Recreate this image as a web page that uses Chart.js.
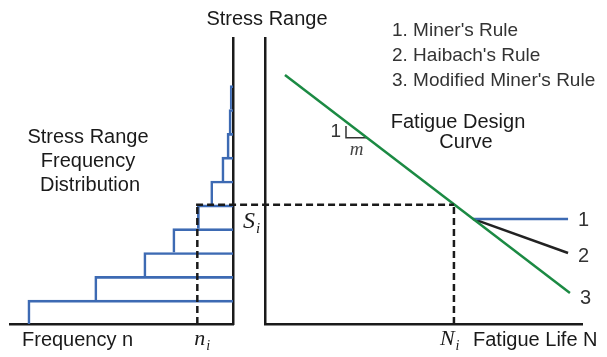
<!DOCTYPE html>
<html>
<head>
<meta charset="utf-8">
<script src="https://cdn.jsdelivr.net/npm/chart.js@4"></script>
<style>
  html, body { margin: 0; padding: 0; background: #fff; }
  #wrap { position: relative; width: 607px; height: 357px; }
  #wrap canvas { position: absolute; left: 0; top: 0; }
</style>
</head>
<body>
<div id="wrap">
  <canvas id="freq" width="607" height="357"></canvas>
  <canvas id="sn" width="607" height="357"></canvas>
</div>
<script>
// Stress range classes (mid-points) and the cycle count in each class
const stressBins = [0.5, 1.5, 2.5, 3.5, 4.5, 5.5, 6.5, 7.5, 8.5, 9.5];
const frequency  = [92, 62, 40, 27, 16, 10, 5, 2.7, 1.8, 1.3];

// Selected stress level S_i, its cycle count n_i and its fatigue life N_i (log N)
const stressSi = 5;
const countNi  = 16;
const lifeNi   = 5.96;

// Fatigue design curve in (log N, S)
const designLogN = [0.63, 9.62];
const designS    = [10.45, 1.30];

// Branches below the knee: 1. Miner (cut-off), 2. Haibach (shallower slope)
const minerLogN   = [6.56, 9.56];
const minerS      = [4.41, 4.41];
const haibachLogN = [6.56, 9.56];
const haibachS    = [4.41, 2.98];

// Slope triangle "1 : m" on the design curve
const slopeLogN = [2.555, 2.555, 3.22];
const slopeS    = [8.31, 7.81, 7.81];

// Axis ranges
const stressMax = 12;
const freqMax   = 100;
const logNMax   = 10;

const BLUE  = '#3d6ab3';
const GREEN = '#1b8a43';
const INK   = '#1a1a1a';
const GREY  = '#333333';
const SANS  = '"Liberation Sans", Arial, sans-serif';
const SERIF = '"Liberation Serif", "Times New Roman", serif';

const pts = (xs, ys) => xs.map((x, i) => ({ x: x, y: ys[i] }));

function text(ctx, s, x, y, size, color, align) {
  ctx.font = size + 'px ' + SANS;
  ctx.fillStyle = color;
  ctx.textAlign = align || 'left';
  ctx.textBaseline = 'alphabetic';
  ctx.fillText(s, x, y);
}

// italic symbol with a subscript, e.g. S_i
function symbol(ctx, base, sub, x, y, size) {
  ctx.fillStyle = INK;
  ctx.textAlign = 'left';
  ctx.textBaseline = 'alphabetic';
  ctx.font = 'italic ' + size + 'px ' + SERIF;
  ctx.fillText(base, x, y);
  const w = ctx.measureText(base).width;
  ctx.font = 'italic ' + Math.round(size * 0.62) + 'px ' + SERIF;
  ctx.fillText(sub, x + w + 1, y + 5);
}

const axisBorder = { display: true, color: INK, width: 2.5 };
const hidden = {
  offset: false,
  grid: { display: false, drawTicks: false, offset: false },
  ticks: { display: false },
  border: axisBorder
};

// ---------- left panel: stress range frequency distribution ----------
const freqLabels = {
  id: 'freqLabels',
  afterDraw(chart) {
    const { ctx, chartArea } = chart;
    const x = chart.scales.x;
    ctx.save();
    text(ctx, 'Stress Range', 88, 143, 20, INK, 'center');
    text(ctx, 'Frequency', 88, 167, 20, INK, 'center');
    text(ctx, 'Distribution', 90, 191, 20, INK, 'center');
    text(ctx, 'Frequency n', chartArea.left + 12, chartArea.bottom + 22, 20, INK);
    symbol(ctx, 'n', 'i', x.getPixelForValue(countNi) - 3, chartArea.bottom + 21, 22);
    ctx.restore();
  }
};

const freqChart = new Chart(document.getElementById('freq'), {
  data: {
    datasets: [
      {
        type: 'bar',
        indexAxis: 'y',
        data: pts(frequency, stressBins),
        backgroundColor: 'rgba(0,0,0,0)',
        borderColor: BLUE,
        borderWidth: { top: 2, left: 2, right: 0, bottom: 0 },
        borderSkipped: false,
        barPercentage: 1,
        categoryPercentage: 1,
        order: 2
      },
      {
        type: 'line',
        data: [{ x: countNi, y: 0 }, { x: countNi, y: stressSi }],
        borderColor: INK,
        borderWidth: 2.5,
        borderDash: [7, 4],
        pointRadius: 0,
        order: 1
      }
    ]
  },
  options: {
    responsive: false,
    animation: false,
    devicePixelRatio: 1,
    layout: { padding: { left: 10, right: 607 - 233, top: 38, bottom: 33 } },
    plugins: { legend: { display: false }, tooltip: { enabled: false } },
    scales: {
      x: Object.assign({ type: 'linear', reverse: true, min: 0, max: freqMax }, hidden),
      y: Object.assign({ type: 'linear', position: 'right', min: 0, max: stressMax }, hidden)
    }
  },
  plugins: [freqLabels]
});

// ---------- right panel: fatigue design curve ----------
const snLabels = {
  id: 'snLabels',
  afterDatasetsDraw(chart) {
    const { ctx } = chart;
    const x = chart.scales.x, y = chart.scales.y;
    const ySi = y.getPixelForValue(stressSi);
    ctx.save();
    // S_i guide joining the distribution to the design curve
    ctx.strokeStyle = INK;
    ctx.lineWidth = 2.5;
    ctx.setLineDash([7, 4]);
    ctx.beginPath();
    ctx.moveTo(freqChart.scales.x.getPixelForValue(countNi) - 1.25, ySi);
    ctx.lineTo(x.getPixelForValue(lifeNi), ySi);
    ctx.stroke();
    ctx.restore();
  },
  afterDraw(chart) {
    const { ctx, chartArea } = chart;
    const x = chart.scales.x, y = chart.scales.y;
    ctx.save();
    text(ctx, 'Stress Range', chartArea.left + 2, 25, 20, INK, 'center');
    text(ctx, "1. Miner's Rule", 392, 36, 19, GREY);
    text(ctx, "2. Haibach's Rule", 392, 61, 19, GREY);
    text(ctx, "3. Modified Miner's Rule", 392, 86, 19, GREY);
    text(ctx, 'Fatigue Design', 458, 128, 20, INK, 'center');
    text(ctx, 'Curve', 466, 148, 20, INK, 'center');

    // slope triangle labels
    text(ctx, '1', x.getPixelForValue(slopeLogN[0]) - 5, y.getPixelForValue(slopeS[1]) - 1, 19, GREY, 'right');
    ctx.font = 'italic 19px ' + SERIF;
    ctx.fillStyle = '#444';
    ctx.textAlign = 'center';
    ctx.fillText('m', (x.getPixelForValue(slopeLogN[1]) + x.getPixelForValue(slopeLogN[2])) / 2,
                 y.getPixelForValue(slopeS[1]) + 17);

    // branch numbers at the line ends
    const ends = [
      [minerLogN[1], minerS[1], '1'],
      [haibachLogN[1], haibachS[1], '2'],
      [designLogN[1], designS[1], '3']
    ];
    ends.forEach(([lx, ly, s], i) => {
      text(ctx, s, x.getPixelForValue(lx) + 10, y.getPixelForValue(ly) + 7 + i * 2, 20, GREY);
    });

    text(ctx, 'Fatigue Life N', 473, chartArea.bottom + 22, 20, INK);
    symbol(ctx, 'N', 'i', x.getPixelForValue(lifeNi) - 14, chartArea.bottom + 21, 22);
    symbol(ctx, 'S', 'i', chartArea.left - 22, y.getPixelForValue(stressSi) + 23, 24);
    ctx.restore();
  }
};

const lineSet = (data, color, width, order, dash) => ({
  type: 'line',
  data: data,
  borderColor: color,
  borderWidth: width,
  borderDash: dash || [],
  pointRadius: 0,
  fill: false,
  tension: 0,
  order: order
});

new Chart(document.getElementById('sn'), {
  type: 'line',
  data: {
    datasets: [
      lineSet(pts(designLogN, designS), GREEN, 2.5, 0),
      lineSet(pts(minerLogN, minerS), BLUE, 2.5, 1),
      lineSet(pts(haibachLogN, haibachS), '#222', 2.5, 2),
      lineSet(pts(slopeLogN, slopeS), '#333', 1.5, 3),
      lineSet([{ x: lifeNi, y: 0 }, { x: lifeNi, y: stressSi }], INK, 2.5, 4, [7, 4])
    ]
  },
  options: {
    responsive: false,
    animation: false,
    devicePixelRatio: 1,
    layout: { padding: { left: 265, right: 25, top: 38, bottom: 33 } },
    plugins: { legend: { display: false }, tooltip: { enabled: false } },
    scales: {
      x: Object.assign({ type: 'linear', min: 0, max: logNMax }, hidden),
      y: Object.assign({ type: 'linear', min: 0, max: stressMax }, hidden)
    }
  },
  plugins: [snLabels]
});
</script>
</body>
</html>
